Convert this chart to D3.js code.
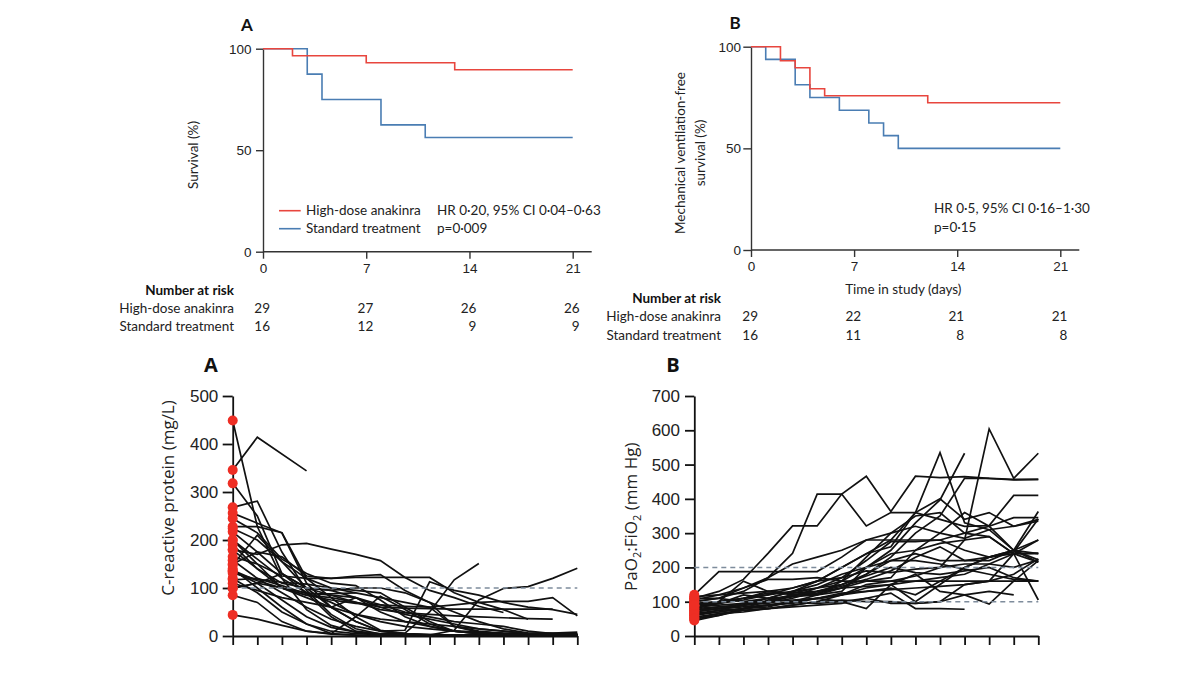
<!DOCTYPE html>
<html><head><meta charset="utf-8">
<script src="https://cdn.jsdelivr.net/npm/d3@7"></script>
<style>body{margin:0;background:#fff}</style>
</head><body><svg id="c" width="1200" height="675"></svg>
<script>
// ---------- DATA ----------
const kmDayTicks = [0, 7, 14, 21];
const survTicks = [0, 50, 100];

const kmA_hd_days = [0, 2, 7, 13, 21];
const kmA_hd_surv = [100, 96.55, 93.1, 89.66, 89.66];
const kmA_st_days = [0, 3, 4, 8, 11, 21];
const kmA_st_surv = [100, 87.5, 75, 62.5, 56.25, 56.25];

const kmB_hd_days = [0, 2, 3, 4, 5, 12, 21];
const kmB_hd_surv = [100, 93.1, 89.66, 79.31, 75.86, 72.41, 72.41];
const kmB_st_days = [0, 1, 3, 4, 6, 8, 9, 10, 21];
const kmB_st_surv = [100, 93.75, 81.25, 75, 68.75, 62.5, 56.25, 50, 50];

const riskGroups = ["High-dose anakinra", "Standard treatment"];
const riskA_hd = [29, 27, 26, 26];
const riskA_st = [16, 12, 9, 9];
const riskB_hd = [29, 22, 21, 21];
const riskB_st = [16, 11, 8, 8];

const days = [0,1,2,3,4,5,6,7,8,9,10,11,12,13,14];
const crpTicks = [0, 100, 200, 300, 400, 500];
const crpThreshold = [100];
const crpSeries = [
  [346, 414, null, 344],
  [449, 228, 120, 55, 22, 8, 3, 2, 1, 1, 1, 1, 1, 1, 1],
  [268, 281, 175, 95, 45, 15, 4, 2, 1, 1, 1],
  [256, 235, 215, 110, 60, 30, 10, 4, 2, 2, 1, 1, 1, 1],
  [228, 228, 215, 120, 80, 40, 12, 5, 3, 2, 2, 1, 1, 1, 1],
  [180, 170, 190, 193, 181, 170, 157, 122, 95, 80, 62, 49],
  [165, 150, 125, 120, 120, 122, 122, 122, 122, 90, 70, 55, 35],
  [150, 175, 165, 125, 120, 125, 128, 95, 70, 50, 30, 15, 6, 5, 4],
  [200, 150, 100, 80, 60, 80, 50, 30, 20, 10, 5, 3, 2, 2, 2],
  [140, 100, 60, 25, 5, 40, 83, 55, 25, 10, 8, 6, 4, 3, 3],
  [120, 90, 50, 25, 10, 5, 3, 2, 2, 12, 75, 99, 103, 120, 141],
  [135, 110, 75, 40, 18, 8, 5, 6, 50, 117, 151],
  [158, 120, 90, 60, 35, 20, 10, 12, 113, 95, 85, 70, 60, 55, 45],
  [100, 110, 100, 85, 75, 68, 65, 62, 60, 65, 70, 72, 72, 80, 42],
  [190, 140, 100, 85, 80, 70, 60, 58, 57, 56, 56, 56, 56, 56],
  [217, 175, 130, 100, 85, 70, 55, 48, 45, 42, 40, 38, 36, 35],
  [117, 120, 105, 88, 88, 90],
  [44, 35, 22, 10, 5, 2, 1, 1, 1, 1, 1, 1, 1, 1, 1],
  [85, 70, 30, 10, 4, 2, 1, 1, 1, 1, 1, 1, 1, 1, 1],
  [99, 110, 130, 100, 95, 100, 100, 90, 70, 20, 10, 5, 3, 3, 3],
  [148, 210, 155, 120, 100, 90, 80, 70, 60, 20, 8, 5, 4, 3, 3],
  [224, 200, 155, 100, 60, 30, 10, 5, 3, 2, 2, 2, 2, 2, 2],
  [245, 215, 160, 130, 110, 105, 75, 40, 20, 10, 5, 3, 2, 2, 2],
  [318, 250, 130, 90, 40, 10, 4, 2, 2, 1, 1, 1, 1, 1, 1],
  [200, 160, 120, 90, 70, 45, 30, 20, 15, 10, 8, 5, 5, 6, 8],
  [179, 140, 110, 100, 95, 80, 60, 45, 35, 25, 15, 10, 6, 5, 4],
  [137, 115, 100, 90, 85, 80, 65, 50, 40, 30, 25, 20, 10, 5, 5],
  [131, 118, 112, 108, 100, 95, 90, 60, 30, 10, 5, 3, 2, 2, 2],
  [110, 95, 80, 70, 60, 45, 35, 30, 25, 20, 15, 10, 5, 3, 3]
];

const pfTicks = [0, 100, 200, 300, 400, 500, 600, 700];
const pfThresholds = [100, 200];
const pfSeries = [
  [120, 188, 188, 188, 188, 188, 230, 280, 280, 280, 280, 300, 320, 345, 345],
  [110, 130, 165, 241, 321, 321, 414, 466, 363, 466, 462, 465, 460, 457, 457],
  [100, 110, 140, 170, 241, 414, 414, 321, 360, 360, 340, 320, 322, 410, 410],
  [85, 95, 110, 120, 130, 150, 180, 200, 240, 250, 270, 280, 604, 460, 533],
  [90, 100, 110, 130, 140, 160, 200, 240, 280, 360, 535, 330, 310, 250, 280],
  [75, 85, 90, 110, 130, 140, 160, 200, 250, 330, 397, 533],
  [60, 70, 80, 90, 100, 120, 160, 230, 300, 350, 360, 300, 290, 240, 241],
  [70, 80, 90, 95, 110, 130, 150, 180, 220, 240, 220, 220, 230, 250, 222],
  [80, 95, 120, 110, 100, 110, 120, 150, 160, 175, 200, 280, 290, 240, 215],
  [90, 100, 160, 130, 120, 120, 130, 200, 220, 220, 210, 195, 180, 165, 160],
  [105, 120, 140, 165, 165, 170, 160, 160, 160, 160, 160, 160, 160, 160, 160],
  [55, 65, 75, 80, 90, 100, 120, 140, 150, 160, 170, 180, 210, 240, 105],
  [65, 75, 80, 90, 100, 95, 100, 80, 150, 180, 130, 120, 93, 160, 220],
  [50, 60, 80, 85, 100, 110, 125, 130, 140, 120, 160, 200, 230, 245, 341],
  [95, 100, 110, 125, 125, 130, 140, 145, 150, 100, 150, 200, 230, 250, 363],
  [110, 110, 100, 110, 130, 160, 170, 190, 185, 195, 200, 210, 210, 200, 222],
  [70, 80, 85, 90, 95, 110, 120, 130, 135, 140, 145, 150, 160, 180, 225],
  [45, 60, 75, 80, 85, 90, 95, 110, 125, 80, 80, 78],
  [85, 90, 95, 100, 105, 110, 100, 110, 95, 95, 100, 150, 160, 240, 241],
  [100, 110, 130, 170, 210, 230, 250, 280, 300, 320, 300, 285, 310, 320, 340],
  [80, 85, 90, 100, 115, 140, 170, 220, 275, 275, 280, 250, 230, 240, 280],
  [60, 75, 90, 100, 120, 125, 140, 160, 170, 250, 300, 360, 320, 250, 240],
  [75, 80, 95, 110, 115, 120, 140, 180, 230, 300, 350, 460, 460, 455, 457],
  [65, 70, 80, 105, 120, 130, 145, 165, 190, 230, 260, 220, 220, 250, 215],
  [115, 120, 125, 130, 125, 140, 150, 175, 200, 185, 180, 190, 200, 170, 160],
  [50, 65, 70, 80, 90, 100, 105, 100, 100, 95, 100, 120, 130, 120],
  [90, 95, 105, 120, 140, 160, 200, 240, 260, 360, 400, 340, 360, 320, 335]
];

// ---------- STYLE ----------
const RED = "#e8463e", BLUE = "#4a7db3", DOT = "#ee2e24", DASH = "#7e8c9c";
const topFont = "Lato, 'Open Sans', sans-serif";
const botFont = "'Open Sans', 'Noto Sans', sans-serif";

const svg = d3.select("#c");
svg.append("rect").attr("width", 1200).attr("height", 675).attr("fill", "#fff");

function styleAxis(g, color, width) {
  g.selectAll(".domain").attr("stroke", color).attr("stroke-width", width);
  g.selectAll(".tick line").attr("stroke", color).attr("stroke-width", width);
  g.selectAll(".tick text").attr("fill", "#222");
}

// ---------- KM PANELS ----------
function kmPanel(cfg) {
  const g = svg.append("g").attr("font-family", topFont);
  const x = d3.scaleLinear().domain([0, 21]).range([cfg.x0, cfg.x1]);
  const y = d3.scaleLinear().domain([0, 100]).range([cfg.y0, cfg.y1]);

  const ya = g.append("g").attr("transform", `translate(${cfg.x0},0)`)
    .call(d3.axisLeft(y).tickValues(survTicks).tickSize(cfg.ytick).tickSizeOuter(0).tickPadding(cfg.ypad));
  ya.selectAll("text").attr("font-size", 13.5);
  styleAxis(ya, "#333", 1.4);

  const xa = g.append("g").attr("transform", `translate(0,${cfg.y0})`)
    .call(d3.axisBottom(x).tickValues(kmDayTicks).tickSize(7).tickSizeOuter(0));
  xa.selectAll("text").attr("font-size", 13.5).attr("y", cfg.xlab).attr("dy", "0.35em");
  xa.select(".domain").remove();
  styleAxis(xa, "#333", 1.4);
  g.append("line").attr("x1", cfg.x0).attr("x2", cfg.xEnd).attr("y1", cfg.y0).attr("y2", cfg.y0)
    .attr("stroke", "#333").attr("stroke-width", 1.4);

  const line = d3.line().x(d => x(d[0])).y(d => y(d[1])).curve(d3.curveStepAfter);
  g.append("path").attr("d", line(d3.zip(cfg.stDays, cfg.stSurv))).attr("fill", "none").attr("stroke", BLUE).attr("stroke-width", 1.6);
  g.append("path").attr("d", line(d3.zip(cfg.hdDays, cfg.hdSurv))).attr("fill", "none").attr("stroke", RED).attr("stroke-width", 1.6);

  g.append("text").attr("x", cfg.letterX).attr("y", cfg.letterY).attr("text-anchor", "middle")
    .attr("dy", "0.35em").attr("font-size", 17).attr("font-weight", "bold").attr("fill", "#111").text(cfg.letter);

  cfg.ylab.forEach(l => {
    g.append("text").attr("transform", `translate(${l.x},${l.y}) rotate(-90)`).attr("text-anchor", "middle")
      .attr("dy", "0.35em").attr("font-size", 13.5).attr("fill", "#222").text(l.t);
  });

  g.append("text").attr("x", cfg.riskLabelX).attr("y", cfg.riskY[0]).attr("dy", "0.35em").attr("text-anchor", "end")
    .attr("font-size", 13.5).attr("font-weight", "bold").attr("fill", "#111").text("Number at risk");
  [cfg.riskHd, cfg.riskSt].forEach((arr, i) => {
    g.append("text").attr("x", cfg.riskLabelX).attr("y", cfg.riskY[i + 1]).attr("dy", "0.35em").attr("text-anchor", "end")
      .attr("font-size", 13.5).attr("fill", "#222").text(riskGroups[i]);
    arr.forEach((v, j) => {
      g.append("text").attr("x", x(kmDayTicks[j]) + 7).attr("y", cfg.riskY[i + 1]).attr("dy", "0.35em")
        .attr("text-anchor", "end").attr("font-size", 13.5).attr("fill", "#222").text(v);
    });
  });
  return g;
}

const gA = kmPanel({
  x0: 263, x1: 572.7, xEnd: 591.7, y0: 251.7, y1: 48.7, ytick: 7, ypad: 4.5, xlab: 16.6,
  hdDays: kmA_hd_days, hdSurv: kmA_hd_surv, stDays: kmA_st_days, stSurv: kmA_st_surv,
  letter: "A", letterX: 247, letterY: 25,
  ylab: [{x: 193, y: 155, t: "Survival (%)"}],
  riskLabelX: 234, riskY: [290, 308, 326.7], riskHd: riskA_hd, riskSt: riskA_st
});
[[RED, 210.7, riskGroups[0], "HR 0·20, 95% CI 0·04–0·63"], [BLUE, 228.7, riskGroups[1], "p=0·009"]].forEach(r => {
  gA.append("line").attr("x1", 279).attr("x2", 300.7).attr("y1", r[1]).attr("y2", r[1]).attr("stroke", r[0]).attr("stroke-width", 1.6);
  gA.append("text").attr("x", 306).attr("y", r[1]).attr("dy", "0.35em").attr("font-size", 13.5).attr("fill", "#222").text(r[2]);
  gA.append("text").attr("x", 437).attr("y", r[1]).attr("dy", "0.35em").attr("font-size", 13.5).attr("fill", "#222").text(r[3]);
});

const gB = kmPanel({
  x0: 751, x1: 1060.3, xEnd: 1079.3, y0: 250, y1: 46.7, ytick: 7.7, ypad: 2.3, xlab: 16.7,
  hdDays: kmB_hd_days, hdSurv: kmB_hd_surv, stDays: kmB_st_days, stSurv: kmB_st_surv,
  letter: "B", letterX: 735, letterY: 22.7,
  ylab: [{x: 680.7, y: 153, t: "Mechanical ventilation-free"}, {x: 700, y: 153, t: "survival (%)"}],
  riskLabelX: 721, riskY: [298.3, 316.7, 335], riskHd: riskB_hd, riskSt: riskB_st
});
gB.append("text").attr("x", 934).attr("y", 208.3).attr("dy", "0.35em").attr("font-size", 13.5).attr("fill", "#222").text("HR 0·5, 95% CI 0·16–1·30");
gB.append("text").attr("x", 934).attr("y", 227.3).attr("dy", "0.35em").attr("font-size", 13.5).attr("fill", "#222").text("p=0·15");
gB.append("text").attr("x", 903.3).attr("y", 289).attr("dy", "0.35em").attr("text-anchor", "middle").attr("font-size", 13.5).attr("fill", "#222").text("Time in study (days)");

// ---------- SPAGHETTI PANELS ----------
function spaghetti(cfg) {
  const g = svg.append("g").attr("font-family", botFont);
  const x = d3.scaleLinear().domain([0, 14]).range([cfg.x0, cfg.x1]);
  const y = d3.scaleLinear().domain([0, cfg.ymax]).range([636, 396]);

  const ya = g.append("g").attr("transform", `translate(${cfg.x0},0)`)
    .call(d3.axisLeft(y).tickValues(cfg.ticks).tickSize(cfg.ytick).tickSizeOuter(0).tickPadding(cfg.ypad));
  ya.selectAll("text").attr("font-size", 17);
  styleAxis(ya, "#111", 1.8);

  const xa = g.append("g").attr("transform", `translate(0,636)`)
    .call(d3.axisBottom(x).tickValues(days).tickSize(9).tickSizeOuter(0).tickFormat(""));
  styleAxis(xa, "#111", 1.8);

  const line = d3.line().x(d => x(d[0])).y(d => y(d[1]));
  cfg.series.forEach(s => {
    const pts = s.map((v, i) => [days[i], v]).filter(p => p[1] !== null);
    g.append("path").attr("d", line(pts)).attr("fill", "none").attr("stroke", "#111").attr("stroke-width", 1.7);
  });
  cfg.thresholds.forEach(t => {
    g.append("line").attr("x1", cfg.x0).attr("x2", cfg.x1).attr("y1", y(t)).attr("y2", y(t))
      .attr("stroke", DASH).attr("stroke-width", 1.6).attr("stroke-dasharray", "5,4");
  });
  cfg.series.forEach(s => {
    g.append("circle").attr("cx", x(days[0])).attr("cy", y(s[0])).attr("r", 5).attr("fill", DOT);
  });

  g.append("text").attr("x", cfg.letterX).attr("y", 365).attr("dy", "0.35em").attr("text-anchor", "middle")
    .attr("font-size", 20).attr("font-weight", "bold").attr("fill", "#111").text(cfg.letter);
  return g;
}

const gC = spaghetti({x0: 232.7, x1: 577.3, ymax: 500, ticks: crpTicks, ytick: 10, ypad: 4.4,
  series: crpSeries, thresholds: crpThreshold, letter: "A", letterX: 211});
gC.append("text").attr("transform", "translate(168.3,498) rotate(-90)").attr("text-anchor", "middle")
  .attr("dy", "0.35em").attr("font-size", 17).attr("fill", "#222").text("C-reactive protein (mg/L)");

const gD = spaghetti({x0: 694.3, x1: 1038.3, ymax: 700, ticks: pfTicks, ytick: 9.3, ypad: 5,
  series: pfSeries, thresholds: pfThresholds, letter: "B", letterX: 673});
const pfLab = gD.append("text").attr("transform", "translate(630.7,516.7) rotate(-90)").attr("text-anchor", "middle")
  .attr("dy", "0.35em").attr("font-size", 17).attr("fill", "#222");
pfLab.append("tspan").text("PaO");
pfLab.append("tspan").attr("font-size", 11).attr("dy", "4").text("2");
pfLab.append("tspan").attr("dy", "-4").text(":FiO");
pfLab.append("tspan").attr("font-size", 11).attr("dy", "4").text("2");
pfLab.append("tspan").attr("dy", "-4").text(" (mm Hg)");
</script></body></html>
